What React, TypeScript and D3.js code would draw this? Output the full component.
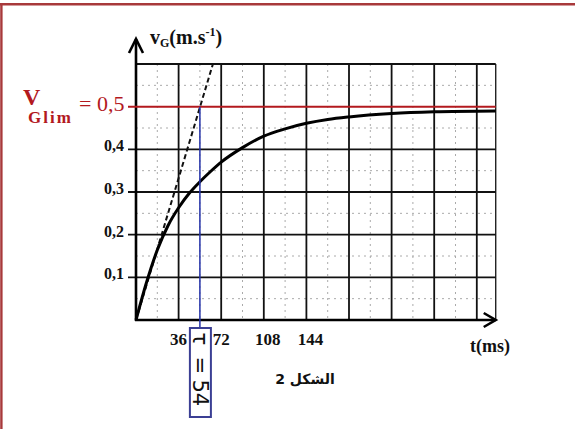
import React from "react";
import * as d3 from "d3";

// ---- data ----
const timeMs = [0, 9, 18, 27, 36, 45, 54, 63, 72, 90, 108, 126, 144, 162, 180, 216, 252, 304];
const speed = [0, 0.089, 0.164, 0.221, 0.263, 0.297, 0.324, 0.348, 0.37, 0.404, 0.431, 0.448, 0.461, 0.47, 0.476, 0.484, 0.488, 0.49];
const tangentT = [0, 65];
const tangentV = [0, 0.6];
const xTickValues = [36, 72, 108, 144];
const xTickLabels = ["36", "72", "108", "144"];
const yTickValues = [0.1, 0.2, 0.3, 0.4];
const yTickLabels = ["0,1", "0,2", "0,3", "0,4"];
const majorT = [36, 72, 108, 144, 180, 216, 252, 288];
const minorT = [18, 54, 90, 126, 162, 198, 234, 270];
const majorV = [0.1, 0.2, 0.3, 0.4, 0.6];
const minorV = [0.05, 0.15, 0.25, 0.35, 0.45, 0.55];
const vLim = 0.5;
const tau = 54;
const tMax = 304;
const vMax = 0.6;

const W = 575;
const H = 429;

export default function App() {
  const x = d3.scaleLinear().domain([0, tMax]).range([136, 136 + (tMax * 42.6) / 36]);
  const y = d3.scaleLinear().domain([0, vMax]).range([320, 64]);

  const pts: [number, number][] = timeMs.map((t, i) => [t, speed[i]]);
  const line = d3
    .line<[number, number]>()
    .x((d) => x(d[0]))
    .y((d) => y(d[1]))
    .curve(d3.curveMonotoneX);
  const tangent = d3
    .line<[number, number]>()
    .x((d) => x(d[0]))
    .y((d) => y(d[1]));
  const tanPts: [number, number][] = tangentT.map((t, i) => [t, tangentV[i]]);

  const x0 = x(0);
  const y0 = y(0);
  const xEnd = x(tMax);
  const yTop = y(vMax);
  const red = "#b3191e";
  const serif = "'Liberation Serif', 'Times New Roman', serif";

  return (
    <svg
      width={W}
      height={H}
      viewBox={`0 0 ${W} ${H}`}
      style={{ position: "absolute", left: 0, top: 0, background: "#fff" }}
    >
      <rect x={0} y={0} width={W} height={H} fill="#fff" />
      {/* frame */}
      <line x1={0} x2={W} y1={4.3} y2={4.3} stroke="#a8393b" strokeWidth={2.4} />
      <line x1={1.4} x2={1.4} y1={4} y2={H} stroke="#a8393b" strokeWidth={2.4} />

      {/* minor grid */}
      {minorT.map((t) => (
        <line key={"mt" + t} x1={x(t)} x2={x(t)} y1={yTop} y2={y0} stroke="#aaa" strokeWidth={1} strokeDasharray="2 4" />
      ))}
      {minorV.map((v) => (
        <line key={"mv" + v} x1={x0} x2={xEnd} y1={y(v)} y2={y(v)} stroke="#aaa" strokeWidth={1} strokeDasharray="2 4" />
      ))}

      {/* major grid */}
      {majorT.map((t) => (
        <line key={"Mt" + t} x1={x(t)} x2={x(t)} y1={yTop} y2={y0} stroke="#111" strokeWidth={1.8} />
      ))}
      {majorV.map((v) => (
        <line key={"Mv" + v} x1={v === vMax ? x0 : 128} x2={xEnd} y1={y(v)} y2={y(v)} stroke="#111" strokeWidth={1.8} />
      ))}
      <line x1={xEnd} x2={xEnd} y1={yTop} y2={y0} stroke="#111" strokeWidth={1.3} />

      {/* axes */}
      <line x1={x0} x2={x0} y1={y0 + 1} y2={39} stroke="#000" strokeWidth={2.6} />
      <polyline points={`${x0 - 7},${53} ${x0},${39} ${x0 + 7},${53}`} fill="none" stroke="#000" strokeWidth={2.6} />
      <line x1={x0 - 1} x2={xEnd} y1={y0} y2={y0} stroke="#000" strokeWidth={2.6} />
      <polyline points={`${xEnd - 12},${y0 - 7} ${xEnd},${y0} ${xEnd - 12},${y0 + 7}`} fill="none" stroke="#000" strokeWidth={2.6} />

      {/* limit line */}
      <line x1={128} x2={xEnd} y1={y(vLim)} y2={y(vLim)} stroke={red} strokeWidth={2} />

      {/* tangent */}
      <path d={tangent(tanPts) || ""} fill="none" stroke="#111" strokeWidth={2} strokeDasharray="5 3" />

      {/* curve */}
      <path d={line(pts) || ""} fill="none" stroke="#000" strokeWidth={3} />

      {/* tau marker */}
      <line x1={x(tau)} x2={x(tau)} y1={y(vLim)} y2={328} stroke="#2331a8" strokeWidth={1.5} />
      <rect x={x(tau) - 10} y={328} width={21} height={89} fill="#fff" stroke="#3b3f94" strokeWidth={2} />
      <text
        transform={`translate(${x(tau) + 0.5},${372.5}) rotate(90)`}
        dominantBaseline="central"
        fontFamily="'DejaVu Sans', sans-serif"
        fontSize={21}
        fill="#111"
      >
        <tspan x={-40}>τ</tspan>
        <tspan x={-16}>=</tspan>
        <tspan x={7}>{tau}</tspan>
      </text>

      {/* y tick labels */}
      {yTickValues.map((v, i) => (
        <text key={"yl" + v} x={124} y={y(v) + 2} textAnchor="end" fontFamily={serif} fontWeight="bold" fontSize={16} fill="#111">
          {yTickLabels[i]}
        </text>
      ))}
      {/* x tick labels */}
      {xTickValues.map((t, i) => (
        <text key={"xl" + t} x={x(t) + (i > 1 ? 4 : 0)} y={345} textAnchor="middle" fontFamily={serif} fontWeight="bold" fontSize={17} fill="#111">
          {xTickLabels[i]}
        </text>
      ))}

      {/* V_Glim label */}
      <text x={23} y={105} fontFamily={serif} fontWeight="bold" fontSize={24} fill={red}>
        V<tspan x={28} dy={18} fontSize={17} letterSpacing={2}>Glim</tspan>
      </text>
      <text x={79} y={111} fontFamily={serif} fontSize={22} fill={red}>= 0,5</text>

      {/* axis titles */}
      <text x={150} y={44} fontFamily={serif} fontWeight="bold" fontSize={20} fill="#111">
        v<tspan fontSize={12} dy={3}>G</tspan>
        <tspan dy={-3}>(m.s</tspan>
        <tspan fontSize={12} dy={-8}>-1</tspan>
        <tspan dy={8}>)</tspan>
      </text>
      <text x={470} y={352} fontFamily={serif} fontWeight="bold" fontSize={18} fill="#111">t(ms)</text>

      {/* figure caption */}
      <text x={305} y={384} textAnchor="middle" direction="rtl" fontFamily="'DejaVu Sans', sans-serif" fontWeight="bold" fontSize={14} fill="#111">
        الشكل 2
      </text>
    </svg>
  );
}
